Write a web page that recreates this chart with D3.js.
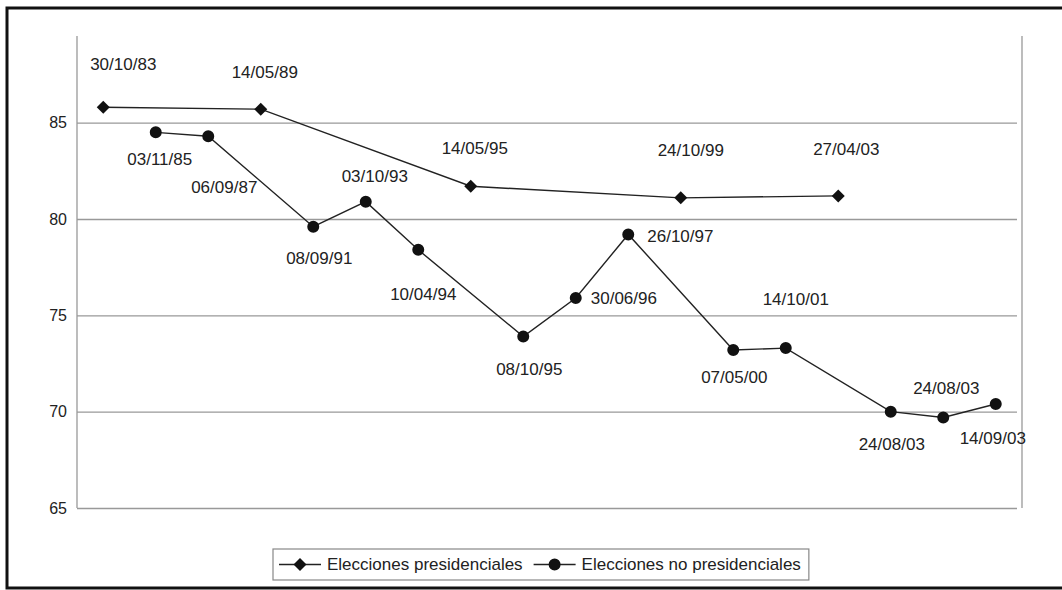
<!DOCTYPE html>
<html>
<head>
<meta charset="utf-8">
<script src="https://cdn.jsdelivr.net/npm/d3@7"></script>
<style>
  body { margin: 0; background: #fff; }
  text { font-family: "Liberation Sans", Arial, sans-serif; fill: #222; }
</style>
</head>
<body>
<div id="chart"></div>
<script>
// fechas de cada eleccion (eje de categorias)
const dates = ["30/10/83", "03/11/85", "06/09/87", "14/05/89", "08/09/91", "03/10/93",
               "10/04/94", "14/05/95", "08/10/95", "30/06/96", "26/10/97", "24/10/99",
               "07/05/00", "14/10/01", "27/04/03", "24/08/03", "24/08/03", "14/09/03"];

// participacion (%) - null donde no hubo ese tipo de eleccion
const presidenciales = [85.8, null, null, 85.7, null, null, null, 81.7, null, null,
                        null, 81.1, null, null, 81.2, null, null, null];
const noPresidenciales = [null, 84.5, 84.3, null, 79.6, 80.9, 78.4, null, 73.9, 75.9,
                          79.2, null, 73.2, 73.3, null, 70.0, 69.7, 70.4];

const yTicks = [65, 70, 75, 80, 85];
const seriesNames = ["Elecciones presidenciales", "Elecciones no presidenciales"];

// where each date label sits relative to its point
const labelPlacement = [
  { dx: 20, dy: -37, anchor: "middle" }, { dx: 4, dy: 33, anchor: "middle" },
  { dx: 16, dy: 57, anchor: "middle" },  { dx: 4, dy: -31, anchor: "middle" },
  { dx: 6, dy: 37, anchor: "middle" },   { dx: 9, dy: -20, anchor: "middle" },
  { dx: 5, dy: 50, anchor: "middle" },   { dx: 4, dy: -32, anchor: "middle" },
  { dx: 6, dy: 38, anchor: "middle" },   { dx: 15, dy: 6, anchor: "start" },
  { dx: 19, dy: 8, anchor: "start" },    { dx: 10, dy: -42, anchor: "middle" },
  { dx: 1, dy: 33, anchor: "middle" },   { dx: 10, dy: -43, anchor: "middle" },
  { dx: 8, dy: -41, anchor: "middle" },  { dx: 1, dy: 38, anchor: "middle" },
  { dx: 3, dy: -23, anchor: "middle" },  { dx: -3, dy: 40, anchor: "middle" }
];

document.addEventListener("DOMContentLoaded", function () {
  const W = 1062, H = 590;
  const plot = { left: 77, right: 1022, top: 36, bottom: 508 };

  const svg = d3.select("#chart")
                .append("svg")
                .attr("width", W)
                .attr("height", H);

  // outer frame of the scanned figure (runs off the right edge)
  svg.append("rect")
     .attr("x", 7).attr("y", 8)
     .attr("width", 1100).attr("height", 580)
     .attr("fill", "none")
     .attr("stroke", "#111")
     .attr("stroke-width", 3);

  const x = d3.scaleBand()
              .domain(d3.range(dates.length))
              .range([plot.left, plot.right]);
  const cx = i => x(i) + x.bandwidth() / 2;

  const y = d3.scaleLinear()
              .domain([65, 89.5])
              .range([plot.bottom, plot.top]);

  // gridlines + y axis
  const yAxis = svg.append("g")
     .attr("transform", `translate(${plot.left},0)`)
     .call(d3.axisLeft(y).tickValues(yTicks).tickSize(-(plot.right - plot.left)).tickSizeOuter(0).tickPadding(10));
  yAxis.select(".domain").remove();
  yAxis.selectAll(".tick line")
       .attr("x1", 5)
       .attr("stroke", "#999")
       .attr("stroke-width", 1.3)
       .attr("transform", "translate(-5,0)");
  yAxis.selectAll(".tick text")
       .style("font-size", "16px")
       .style("font-family", "'Liberation Sans', Arial, sans-serif")
       .attr("fill", "#222");

  // plot area sides
  svg.append("line")
     .attr("x1", plot.left).attr("x2", plot.left)
     .attr("y1", y(89.5)).attr("y2", y(65))
     .attr("stroke", "#999").attr("stroke-width", 1.3);
  svg.append("line")
     .attr("x1", plot.right).attr("x2", plot.right)
     .attr("y1", y(89.5)).attr("y2", y(65))
     .attr("stroke", "#999").attr("stroke-width", 1.3);

  // diamond marker (6.5px half-diagonal) and round marker
  const diamond = "M0,-6.5L6.5,0L0,6.5L-6.5,0Z";
  const circle = d3.symbol().type(d3.symbolCircle).size(113)();
  const markers = [diamond, circle];

  const series = [presidenciales, noPresidenciales];
  const line = d3.line()
                 .x(d => cx(d.i))
                 .y(d => y(d.v));

  series.forEach((vals, s) => {
    const pts = vals.map((v, i) => ({ i: i, v: v })).filter(d => d.v !== null);

    svg.append("path")
       .datum(pts)
       .attr("d", line)
       .attr("fill", "none")
       .attr("stroke", "#222")
       .attr("stroke-width", 1.4);

    svg.append("g")
       .selectAll("path")
       .data(pts)
       .join("path")
       .attr("d", markers[s])
       .attr("transform", d => `translate(${cx(d.i)},${y(d.v)})`)
       .attr("fill", "#111");

    svg.append("g")
       .selectAll("text")
       .data(pts)
       .join("text")
       .attr("x", d => cx(d.i) + labelPlacement[d.i].dx)
       .attr("y", d => y(d.v) + labelPlacement[d.i].dy)
       .attr("text-anchor", d => labelPlacement[d.i].anchor)
       .style("font-size", "17px")
       .text(d => dates[d.i]);
  });

  // legend
  const lg = svg.append("g");
  const box = lg.append("rect")
     .attr("x", 273).attr("y", 549)
     .attr("width", 540).attr("height", 31)
     .attr("fill", "#fff")
     .attr("stroke", "#888")
     .attr("stroke-width", 1.2);

  let lx = 279;
  const ly = 564.5;
  seriesNames.forEach((name, s) => {
    lg.append("line")
      .attr("x1", lx).attr("x2", lx + 42)
      .attr("y1", ly).attr("y2", ly)
      .attr("stroke", "#222").attr("stroke-width", 1.4);
    lg.append("path")
      .attr("d", markers[s])
      .attr("transform", `translate(${lx + 21},${ly})`)
      .attr("fill", "#111");
    const t = lg.append("text")
      .attr("x", lx + 48)
      .attr("y", ly)
      .attr("dy", "0.35em")
      .style("font-size", "17px")
      .text(name);
    lx = lx + 48 + t.node().getComputedTextLength() + 11;
  });
  box.attr("width", lx - 11 + 8 - 273);
});
</script>
</body>
</html>
